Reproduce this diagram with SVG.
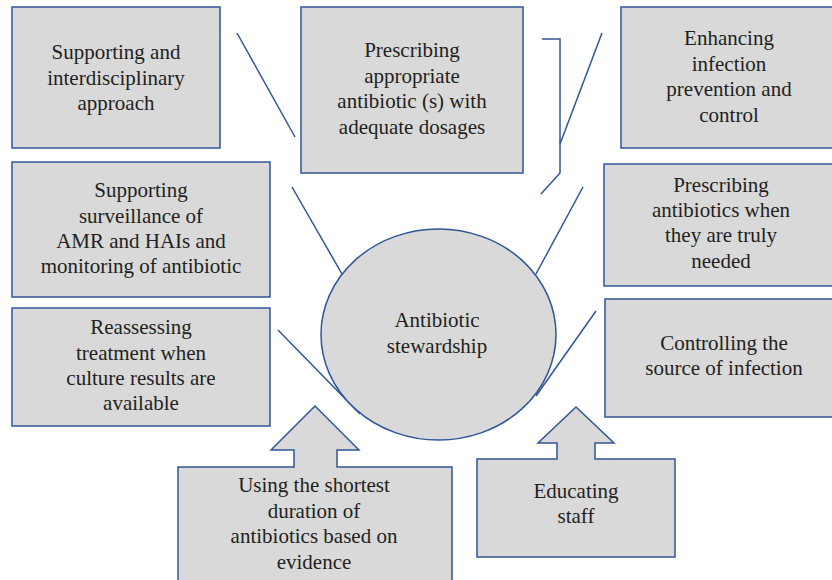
<svg xmlns="http://www.w3.org/2000/svg" width="832" height="580" viewBox="0 0 832 580">
<style>
.box{fill:#d9d9d9;stroke:#2f5597;stroke-width:1.5}
.ln{fill:none;stroke:#2f5597;stroke-width:1.5}
text{font-family:'Liberation Serif','DejaVu Serif',serif;font-size:21px;fill:#231f20;text-anchor:middle}
</style>
<rect width="832" height="580" fill="#ffffff"/>
<g id="connectors">
<line class="ln" x1="237" y1="33" x2="295" y2="137"/>
<polyline class="ln" points="542,39 560,39 560,173 541,194"/>
<line class="ln" x1="560" y1="144" x2="602" y2="33"/>
<line class="ln" x1="292" y1="187" x2="342" y2="274"/>
<line class="ln" x1="583" y1="187" x2="536" y2="274"/>
<line class="ln" x1="278" y1="330" x2="360" y2="414"/>
<line class="ln" x1="596" y1="311" x2="536" y2="396"/>
</g>
<g id="n_interdisciplinary">
<rect class="box" x="12" y="7" width="208" height="141"/>
<text x="116" y="59">Supporting and</text>
<text x="116" y="84.5">interdisciplinary</text>
<text x="116" y="110">approach</text>
</g>
<g id="n_appropriate">
<rect class="box" x="301" y="7" width="222" height="166"/>
<text x="412" y="57">Prescribing</text>
<text x="412" y="82.5">appropriate</text>
<text x="412" y="108">antibiotic (s) with</text>
<text x="412" y="133.5">adequate dosages</text>
</g>
<g id="n_infection_prevention">
<rect class="box" x="621" y="7" width="212" height="141"/>
<text x="729" y="45">Enhancing</text>
<text x="729" y="70.5">infection</text>
<text x="729" y="96">prevention and</text>
<text x="729" y="121.5">control</text>
</g>
<g id="n_truly_needed">
<rect class="box" x="604" y="164" width="229" height="122"/>
<text x="721" y="192">Prescribing</text>
<text x="721" y="217">antibiotics when</text>
<text x="721" y="242">they are truly</text>
<text x="721" y="268">needed</text>
</g>
<g id="n_source">
<rect class="box" x="605" y="299" width="228" height="118"/>
<text x="724" y="349.5">Controlling the</text>
<text x="724" y="375">source of infection</text>
</g>
<g id="n_surveillance">
<rect class="box" x="12" y="162" width="258" height="135"/>
<text x="141" y="197">Supporting</text>
<text x="141" y="222.5">surveillance of</text>
<text x="141" y="248">AMR and HAIs and</text>
<text x="141" y="273">monitoring of antibiotic</text>
</g>
<g id="n_reassessing">
<rect class="box" x="12" y="308" width="258" height="118"/>
<text x="141" y="334">Reassessing</text>
<text x="141" y="359.5">treatment when</text>
<text x="141" y="385">culture results are</text>
<text x="141" y="410">available</text>
</g>
<g id="n_stewardship">
<ellipse class="box" cx="438.5" cy="334.5" rx="117.5" ry="105.5"/>
<text x="437" y="327">Antibiotic</text>
<text x="437" y="353">stewardship</text>
</g>
<g id="n_shortest_duration">
<path class="box" d="M178,467 L294,467 L294,450 L271,450 L315,406 L359,450 L337,450 L337,467 L452,467 L452,583 L178,583 Z"/>
<text x="314" y="492">Using the shortest</text>
<text x="314" y="517.5">duration of</text>
<text x="314" y="543">antibiotics based on</text>
<text x="314" y="568.5">evidence</text>
</g>
<g id="n_educating">
<path class="box" d="M477,459 L557,459 L557,443 L538,443 L576,407 L614,443 L595,443 L595,459 L675,459 L675,557 L477,557 Z"/>
<text x="576" y="498">Educating</text>
<text x="576" y="523">staff</text>
</g>
</svg>
